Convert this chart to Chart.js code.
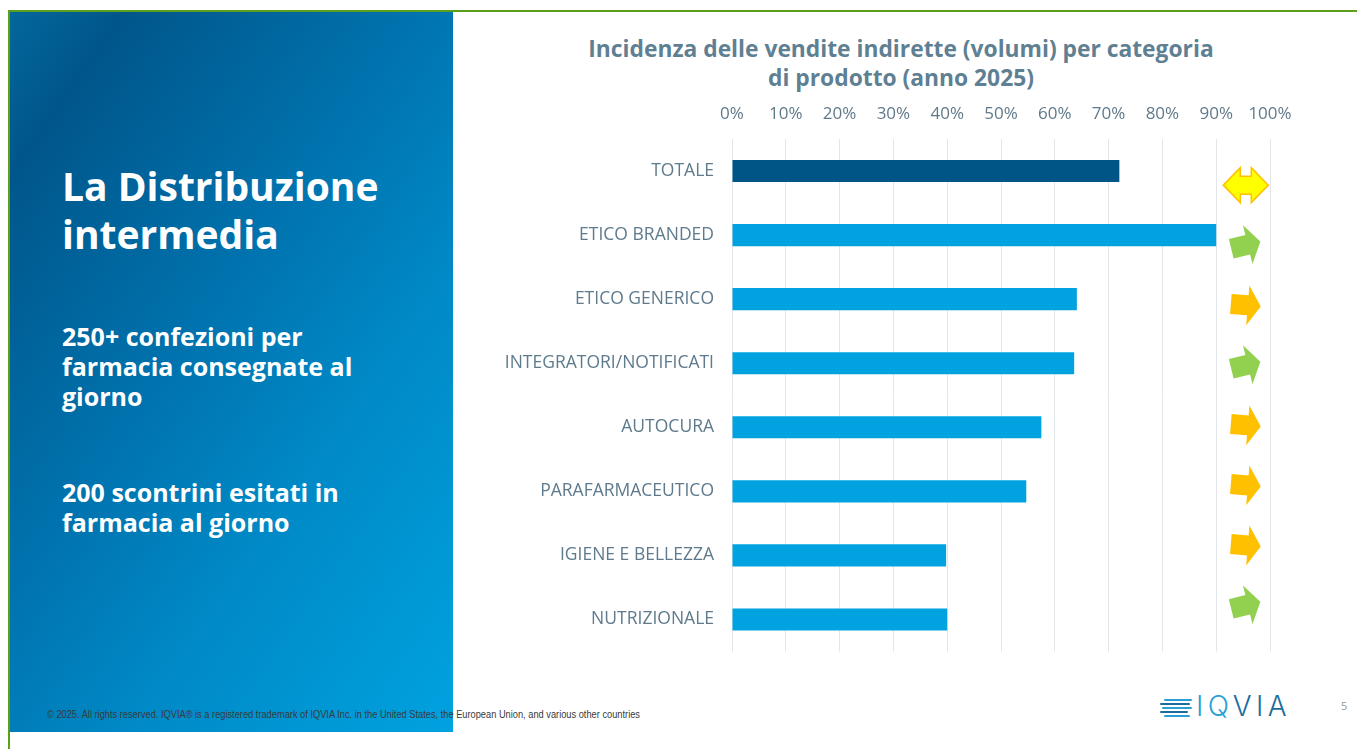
<!DOCTYPE html>
<html>
<head>
<meta charset="utf-8">
<script src="https://cdn.jsdelivr.net/npm/chart.js@4.4.1/dist/chart.umd.min.js"></script>
<style>
  html, body { margin: 0; padding: 0; background: #fff; }
  body { width: 1357px; height: 749px; position: relative; overflow: hidden; font-family: "Open Sans", "Noto Sans", sans-serif; }
  .frame-top { position: absolute; left: 8px; top: 10px; width: 1349px; height: 2px; background: #5b9f1a; }
  .frame-left { position: absolute; left: 8px; top: 10px; width: 2px; height: 739px; background: #5b9f1a; }
  .panel {
    position: absolute; left: 10px; top: 12px; width: 443px; height: 720px;
    background: linear-gradient(125deg, #03679c 0%, #00568a 12%, #0070ab 40%, #0089c6 65%, #00a2e0 100%);
  }
  .panel h1 { position: absolute; left: 52px; top: 150px; margin: 0; color: #fff; font-size: 39px; line-height: 48px; font-weight: 700; }
  .panel p { position: absolute; left: 52px; margin: 0; color: #fff; font-size: 25px; line-height: 30px; font-weight: 700; }
  #title { position: absolute; left: 901px; top: 34px; transform: translateX(-50%); text-align: center; white-space: nowrap;
    color: #5f7f93; font-size: 22.8px; line-height: 29px; font-weight: 700; }
  #chartBox { position: absolute; left: 470px; top: 95px; width: 880px; height: 585px; }
  #footer { position: absolute; left: 47px; top: 709px; font-family: "Liberation Sans", Arial, sans-serif; font-size: 10px; color: #3a3a3a;
    white-space: nowrap; transform-origin: left center; }
  .logo { position: absolute; left: 1160px; top: 692px; width: 130px; height: 30px; }
  .logo .stripe { position: absolute; height: 2px; border-radius: 1px; }
  .logo .txt { position: absolute; left: 36px; top: -3px; font-family: Inter, sans-serif; font-weight: 300; font-size: 28px; letter-spacing: 4.5px; }
  #page { position: absolute; left: 1341px; top: 698px; color: #999; font-size: 11px; }
</style>
</head>
<body>
<div class="frame-top"></div>
<div class="frame-left"></div>
<div class="panel">
  <h1>La Distribuzione<br>intermedia</h1>
  <p style="top:309px">250+ confezioni per<br>farmacia consegnate al<br>giorno</p>
  <p style="top:465px">200 scontrini esitati in<br>farmacia al giorno</p>
</div>
<div id="title">Incidenza delle vendite indirette (volumi) per categoria<br>di prodotto (anno 2025)</div>
<div id="chartBox"><canvas id="myChart"></canvas></div>
<div id="footer">© 2025. All rights reserved. IQVIA® is a registered trademark of IQVIA Inc. in the United States, the European Union, and various other countries</div>
<div class="logo">
  <div class="stripe" style="left:4px;top:7px;width:28px;background:#2a9fd6"></div>
  <div class="stripe" style="left:0px;top:11px;width:30px;background:#1b6d9c"></div>
  <div class="stripe" style="left:2px;top:15px;width:30px;background:#2a9fd6"></div>
  <div class="stripe" style="left:0px;top:19px;width:28px;background:#1b6d9c"></div>
  <div class="stripe" style="left:4px;top:23px;width:26px;background:#2a9fd6"></div>
  <div class="txt"><span style="color:#2a9fd6">IQ</span><span style="color:#1b6d9c">VIA</span></div>
</div>
<div id="page">5</div>

<script>
// categories and values (share of indirect sales, 0..1)
const categories = [
  "TOTALE",
  "ETICO BRANDED",
  "ETICO GENERICO",
  "INTEGRATORI/NOTIFICATI",
  "AUTOCURA",
  "PARAFARMACEUTICO",
  "IGIENE E BELLEZZA",
  "NUTRIZIONALE",
];
const shares = [0.72, 0.90, 0.641, 0.636, 0.575, 0.547, 0.398, 0.40];
// trend arrows next to each bar
const trends = ["stable", "up", "right", "up", "right", "right", "right", "up"];
const xTicks = [0, 0.1, 0.2, 0.3, 0.4, 0.5, 0.6, 0.7, 0.8, 0.9, 1];

const barColors = categories.map((c, i) => (i === 0 ? "#005587" : "#00a3e0"));

function arrowPath(ctx, kind) {
  ctx.beginPath();
  if (kind === "stable") {
    // double headed arrow
    ctx.moveTo(-22.5, 0);
    ctx.lineTo(-5.5, -17.5);
    ctx.lineTo(-5.5, -9);
    ctx.lineTo(5.5, -9);
    ctx.lineTo(5.5, -17.5);
    ctx.lineTo(22.5, 0);
    ctx.lineTo(5.5, 17.5);
    ctx.lineTo(5.5, 9);
    ctx.lineTo(-5.5, 9);
    ctx.lineTo(-5.5, 17.5);
  } else {
    ctx.moveTo(-15, -10);
    ctx.lineTo(2, -10);
    ctx.lineTo(2, -20);
    ctx.lineTo(15, 0);
    ctx.lineTo(2, 20);
    ctx.lineTo(2, 10);
    ctx.lineTo(-15, 10);
  }
  ctx.closePath();
}

const trendArrows = {
  id: "trendArrows",
  afterDatasetsDraw(chart) {
    const { ctx, scales } = chart;
    const xs = scales.x, ys = scales.y;
    const cx = xs.getPixelForValue(0.955);
    trends.forEach((t, i) => {
      // arrows sit in a column a bit tighter than the rows
      const cy = ys.getPixelForValue(0.22 + i * 0.937);
      ctx.save();
      ctx.translate(cx, cy);
      if (t === "up") ctx.rotate(-0.24);
      if (t === "right") ctx.rotate(0.08);
      arrowPath(ctx, t);
      if (t === "stable") {
        ctx.fillStyle = "#ffff00";
        ctx.fill();
        ctx.lineWidth = 1.5;
        ctx.strokeStyle = "#ffc000";
        ctx.stroke();
      } else {
        ctx.fillStyle = t === "up" ? "#92d050" : "#ffc000";
        ctx.fill();
      }
      ctx.restore();
    });
  },
};

const data = {
  labels: categories,
  datasets: [
    {
      label: "Incidenza vendite indirette",
      data: shares,
      backgroundColor: barColors,
      borderWidth: 0,
      barPercentage: 0.345,
      categoryPercentage: 1,
    },
  ],
};

const config = {
  type: "bar",
  data,
  options: {
    indexAxis: "y",
    responsive: true,
    maintainAspectRatio: false,
    animation: false,
    layout: { padding: { left: 0, right: 80, top: 0, bottom: 6 } },
    plugins: {
      legend: { display: false },
      title: { display: false },
      tooltip: { enabled: false },
    },
    scales: {
      x: {
        position: "top",
        min: 0,
        max: 1,
        afterBuildTicks: (scale) => {
          scale.ticks = xTicks.map((v) => ({ value: v }));
        },
        afterFit: (scale) => {
          scale.height = 44;
        },
        ticks: {
          callback: (v) => Math.round(v * 100) + "%",
          color: "#60798a",
          font: { family: "Open Sans", size: 17 },
          padding: 15,
        },
        grid: { color: "#e1e6ea", drawTicks: false },
        border: { display: false },
      },
      y: {
        afterFit: (scale) => {
          scale.width = 262;
        },
        ticks: {
          color: "#5e7a8c",
          font: { family: "Open Sans", size: 17.5 },
          padding: 18,
        },
        grid: { display: false, drawTicks: false },
        border: { display: false },
      },
    },
  },
  plugins: [trendArrows],
};

const myChart = new Chart(document.getElementById("myChart"), config);

// squeeze the copyright line to its width in the slide
const foot = document.getElementById("footer");
const fw = foot.getBoundingClientRect().width;
foot.style.transform = "scaleX(" + (593 / fw) + ")";
</script>
</body>
</html>
